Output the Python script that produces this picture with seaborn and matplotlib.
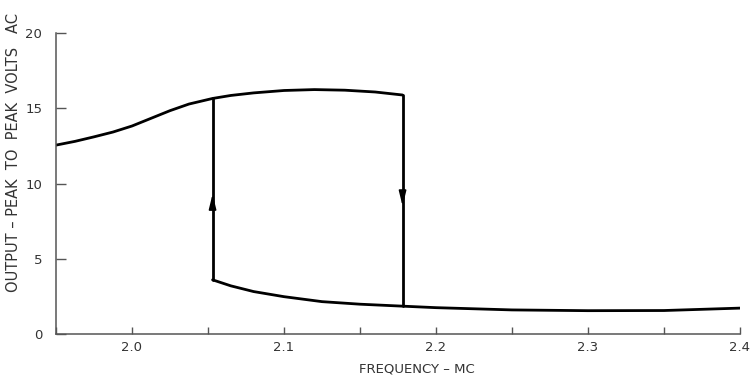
import numpy as np
import pandas as pd
import matplotlib
matplotlib.use("Agg")
import matplotlib.pyplot as plt
import seaborn as sns
from matplotlib.ticker import MultipleLocator

# Upper (high-amplitude) branch of the response
upper_freq = [1.95, 1.9625, 1.975, 1.9875, 2.0, 2.0125, 2.025, 2.0375,
              2.053, 2.065, 2.08, 2.1, 2.12, 2.14, 2.16, 2.178]
upper_volts = [12.55, 12.8, 13.1, 13.42, 13.82, 14.33, 14.84, 15.28,
               15.65, 15.85, 16.02, 16.18, 16.24, 16.2, 16.08, 15.88]

# Lower (low-amplitude) branch of the response
lower_freq = [2.053, 2.065, 2.08, 2.1, 2.125, 2.15, 2.178, 2.2, 2.25,
              2.3, 2.35, 2.4]
lower_volts = [3.6, 3.2, 2.82, 2.48, 2.15, 1.98, 1.85, 1.75, 1.6,
               1.55, 1.56, 1.72]

# Jump frequencies: rising sweep jumps up, falling sweep jumps down
jump_up_freq = [2.053, 2.053]
jump_up_volts = [3.6, 15.65]
jump_down_freq = [2.178, 2.178]
jump_down_volts = [15.88, 1.85]

# Direction arrows on the jumps: (freq, tail, head)
arrow_up = (2.053, 8.3, 9.3)
arrow_down = (2.178, 9.5, 8.5)

x_ticks = [2.0, 2.1, 2.2, 2.3, 2.4]
x_tick_labels = ["2.0", "2.1", "2.2", "2.3", "2.4"]
y_ticks = [0, 5, 10, 15, 20]

sns.set_theme(style="white")
plt.rcParams["font.family"] = ["DejaVu Sans"]

fig = plt.figure(figsize=(7.54, 3.76), dpi=100)
ax = fig.add_axes([56 / 754, 1 - 334 / 376, (740 - 56) / 754, (334 - 33) / 376])

segments = [
    ("upper", upper_freq, upper_volts),
    ("lower", lower_freq, lower_volts),
    ("up", jump_up_freq, jump_up_volts),
    ("down", jump_down_freq, jump_down_volts),
]
for name, f, v in segments:
    df = pd.DataFrame({"freq": f, "volts": v})
    sns.lineplot(data=df, x="freq", y="volts", ax=ax, sort=False,
                 estimator=None, color="black", linewidth=2.0)

for xf, tail, head in (arrow_up, arrow_down):
    ax.annotate("", xy=(xf, head), xytext=(xf, tail),
                arrowprops=dict(arrowstyle="-|>,head_length=0.9,head_width=0.22",
                                color="black", lw=1.2,
                                mutation_scale=10, shrinkA=0, shrinkB=0))

ax.set_xlim(1.95, 2.4)
ax.set_ylim(0, 20)
ax.set_xticks(x_ticks)
ax.set_xticklabels(x_tick_labels)
ax.xaxis.set_minor_locator(MultipleLocator(0.05))
ax.set_yticks(y_ticks)

spine_col = "#555555"
text_col = "#333333"
for s in ["top", "right"]:
    ax.spines[s].set_visible(False)
for s in ["left", "bottom"]:
    ax.spines[s].set_color(spine_col)
    ax.spines[s].set_linewidth(1.1)

ax.tick_params(axis="x", which="both", direction="in", length=5, width=1,
               color=spine_col, labelsize=9.5, labelcolor=text_col, pad=5,
               bottom=True)
ax.tick_params(axis="y", which="major", direction="in", length=7, width=1,
               color=spine_col, labelsize=9.5, labelcolor=text_col, pad=10,
               left=True)

ax.set_xlabel("FREQUENCY \u2013 MC", fontsize=9.5, color=text_col)
ax.xaxis.set_label_coords((417 - 56) / (740 - 56), -28 / (334 - 33))
ax.set_ylabel("OUTPUT \u2013 PEAK  TO  PEAK  VOLTS   AC", fontsize=10.5,
              color=text_col)
ax.yaxis.set_label_coords(-(56 - 21) / (740 - 56), (334 - 152) / (334 - 33))

ax.set_facecolor("white")
fig.patch.set_facecolor("white")
fig.savefig("out.png", dpi=100)
